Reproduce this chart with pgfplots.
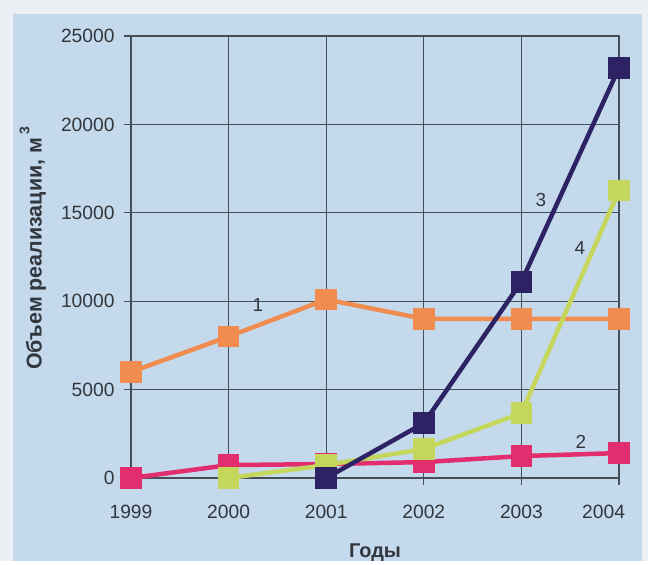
\documentclass[border=0pt]{standalone}
\usepackage{pgfplots}
\pgfplotsset{compat=1.18}
\usepackage{fontspec}
\setmainfont{Liberation Sans}
\definecolor{bg}{RGB}{196,217,236}
\definecolor{outer}{RGB}{236,240,244}
\definecolor{txt}{RGB}{50,55,62}
\definecolor{gridc}{RGB}{70,78,88}
\definecolor{s1}{RGB}{240,140,80}
\definecolor{s2}{RGB}{226,45,110}
\definecolor{s3}{RGB}{45,35,100}
\definecolor{s4}{RGB}{196,214,92}
\begin{document}
\begin{tikzpicture}[x=1bp,y=1bp]
\fill[outer] (0,0) rectangle (648,561);
\fill[bg] (13,0) rectangle (642,547);
\begin{axis}[
  at={(131bp,83bp)}, anchor=south west,
  scale only axis, width=488bp, height=442bp,
  xmin=1999, xmax=2004, ymin=0, ymax=25000,
  xtick={1999,2000,2001,2002,2003,2004},
  xticklabels={1999,2000,2001,2002,2003,\makebox[0pt][r]{2004\kern-6bp}},
  ytick={0,5000,10000,15000,20000,25000},
  scaled y ticks=false,
  yticklabel style={/pgf/number format/1000 sep={}},
  /pgf/number format/assume math mode=true,
  tick label style={font=\fontsize{19.3}{22}\selectfont, text=txt},
  xticklabel style={yshift=-17bp},
  yticklabel style={xshift=-6bp},
  grid=major, grid style={gridc, line width=1.1bp},
  axis line style={gridc, line width=1.2bp},
  tick style={gridc, line width=1.1bp},
  tick align=outside, major tick length=7bp,
  axis x line*=bottom, axis y line*=left,
  clip=false,
  xlabel={\textbf{Годы}},
  xlabel style={font=\fontsize{20}{24}\selectfont, text=txt, yshift=-18bp},
  ylabel={\textbf{Объем реализации, м\,\raisebox{1.1ex}{\fontsize{14}{16}\selectfont 3}}},
  ylabel style={font=\fontsize{21.5}{24}\selectfont, text=txt, at={(ticklabel cs:0.52)}, yshift=8bp},
  every axis plot/.append style={line width=4.5bp, mark=square*, mark size=8.5bp, mark options={solid}},
]
\draw[gridc, line width=1.1bp] (axis cs:1999,25000) -- (axis cs:2004,25000) -- (axis cs:2004,0);
\addplot[s1, mark options={fill=s1, draw=s1}] coordinates {(1999,6000) (2000,8000) (2001,10100) (2002,9000) (2003,9000) (2004,9000)};
\addplot[s2, mark options={fill=s2, draw=s2}] coordinates {(1999,0) (2000,730) (2001,790) (2002,900) (2003,1240) (2004,1410)};
\addplot[s4, mark options={fill=s4, draw=s4}] coordinates {(2000,0) (2001,730) (2002,1640) (2003,3670) (2004,16250)};
\addplot[s3, mark options={fill=s3, draw=s3}] coordinates {(2001,0) (2002,3100) (2003,11100) (2004,23200)};
\node[text=txt, font=\fontsize{19}{22}\selectfont] at (axis cs:2000.3,9800) {1};
\node[text=txt, font=\fontsize{19}{22}\selectfont] at (axis cs:2003.61,2050) {2};
\node[text=txt, font=\fontsize{19}{22}\selectfont] at (axis cs:2003.2,15700) {3};
\node[text=txt, font=\fontsize{19}{22}\selectfont] at (axis cs:2003.6,13000) {4};
\end{axis}
\end{tikzpicture}
\end{document}
